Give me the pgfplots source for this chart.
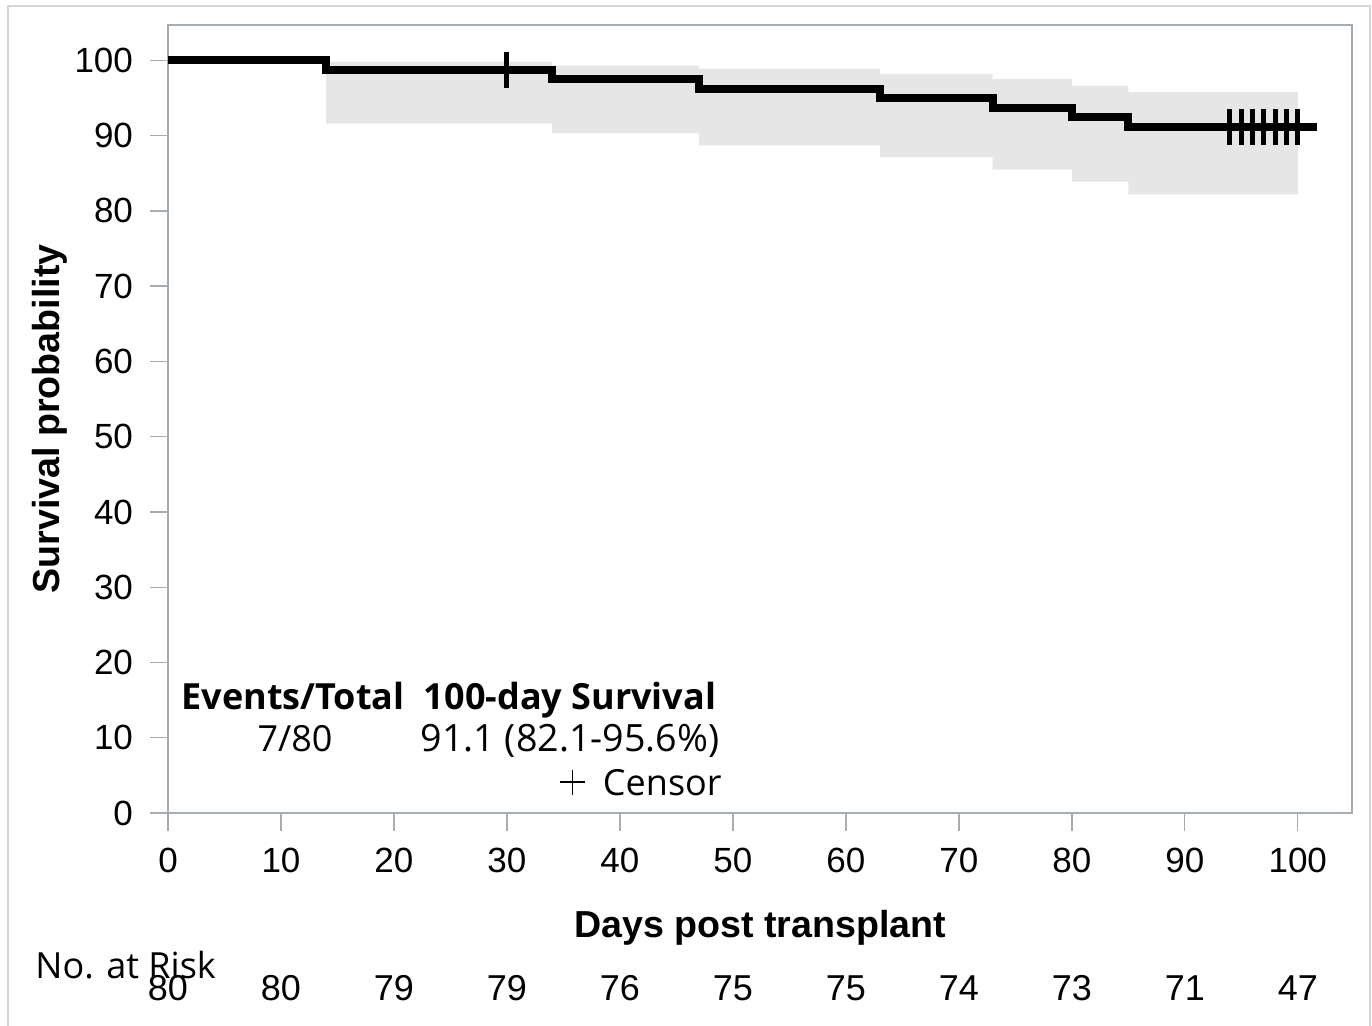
\documentclass[border=0pt]{standalone}
\usepackage{pgfplots}
\pgfplotsset{compat=1.18}
\usepgfplotslibrary{fillbetween}
\usepackage{fontspec}
\setmainfont{Liberation Sans}
\newfontfamily\segoe{Open Sans}
\definecolor{axgray}{RGB}{165,172,178}
\definecolor{bandgray}{RGB}{230,230,230}
\definecolor{framegray}{RGB}{214,214,214}
\begin{document}
\begin{tikzpicture}
\begin{axis}[
  scale only axis, width=592pt, height=394pt,
  xmin=0, xmax=104.8, ymin=0, ymax=104.7,
  axis line style={axgray, line width=0.7pt},
  every tick/.style={axgray, line width=0.7pt},
  major tick length=9pt,
  tick align=outside,
  xtick={0,10,...,100}, ytick={0,10,...,100},
  xtick pos=bottom, ytick pos=left,
  tick label style={font=\fontsize{17.5}{21}\selectfont},
  xticklabel style={yshift=-5pt},
  yticklabel style={xshift=-5pt},
  /pgf/number format/assume math mode=true,
  xlabel={Days post transplant}, ylabel={Survival probability},
  label style={font=\fontsize{18.8}{22}\selectfont\bfseries},
  xlabel style={at={(axis description cs:0.5,-0.1455)}, anchor=center},
  ylabel style={at={(axis description cs:-0.0997,0.5)}, anchor=center},
  clip=false,
]
\addplot[name path=up, const plot, draw=none, forget plot] coordinates {
  (14,99.8)(34,99.3)(47,98.9)(63,98.2)(73,97.5)(80,96.6)(85,95.8)(100,95.8)};
\addplot[name path=lo, const plot, draw=none, forget plot] coordinates {
  (14,91.6)(34,90.3)(47,88.7)(63,87.1)(73,85.5)(80,83.9)(85,82.2)(100,82.2)};
\addplot[bandgray, draw=none] fill between[of=up and lo];
\addplot[const plot, black, line width=4pt, line join=miter] coordinates {
  (0,100)(14,98.75)(34,97.48)(47,96.22)(63,94.95)(73,93.69)(80,92.42)(85,91.15)(101.7,91.15)};
\addplot[only marks, black, mark=|, mark size=9pt, mark options={line width=2.5pt}] coordinates {
  (30,98.75)(94,91.15)(95,91.15)(96,91.15)(97,91.15)(98,91.15)(99,91.15)(100,91.15)};
% numbers at risk
\node[font=\fontsize{18}{21}\selectfont] at (axis cs:0,0)   [yshift=-87.5pt] {80};
\node[font=\fontsize{18}{21}\selectfont] at (axis cs:10,0)  [yshift=-87.5pt] {80};
\node[font=\fontsize{18}{21}\selectfont] at (axis cs:20,0)  [yshift=-87.5pt] {79};
\node[font=\fontsize{18}{21}\selectfont] at (axis cs:30,0)  [yshift=-87.5pt] {79};
\node[font=\fontsize{18}{21}\selectfont] at (axis cs:40,0)  [yshift=-87.5pt] {76};
\node[font=\fontsize{18}{21}\selectfont] at (axis cs:50,0)  [yshift=-87.5pt] {75};
\node[font=\fontsize{18}{21}\selectfont] at (axis cs:60,0)  [yshift=-87.5pt] {75};
\node[font=\fontsize{18}{21}\selectfont] at (axis cs:70,0)  [yshift=-87.5pt] {74};
\node[font=\fontsize{18}{21}\selectfont] at (axis cs:80,0)  [yshift=-87.5pt] {73};
\node[font=\fontsize{18}{21}\selectfont] at (axis cs:90,0)  [yshift=-87.5pt] {71};
\node[font=\fontsize{18}{21}\selectfont] at (axis cs:100,0) [yshift=-87.5pt] {47};
\end{axis}
% legend block
\node[font=\segoe\fontsize{18}{21}\selectfont\bfseries, anchor=base] at (62.5pt,52pt) {Events/Total};
\node[font=\segoe\fontsize{18}{21}\selectfont\bfseries, anchor=base] at (201pt,52pt) {100-day Survival};
\node[font=\segoe\fontsize{18}{21}\selectfont, anchor=base] at (63.5pt,31pt) {7/80};
\node[font=\segoe\fontsize{18.8}{21}\selectfont, anchor=base] at (201pt,31pt) {91.1 (82.1-95.6\%)};
\node[font=\segoe\fontsize{18}{21}\selectfont, anchor=base east, inner sep=0pt] at (277pt,9pt) {Censor};
\draw[black, line width=0.7pt] (196pt,15.5pt) -- (208.5pt,15.5pt) (202.25pt,9.25pt) -- (202.25pt,21.75pt);
\node[font=\segoe\fontsize{18}{21}\selectfont, anchor=west, inner sep=0pt] at (-66.5pt,-76pt) {No. at Risk};
\draw[framegray, line width=0.6pt] (-80pt,-110pt) -- (-80pt,403.5pt) -- (601pt,403.5pt) -- (601pt,-110pt);
\pgfresetboundingbox
\useasboundingbox (-84pt,-106pt) rectangle (602pt,406.5pt);
\end{tikzpicture}
\end{document}
